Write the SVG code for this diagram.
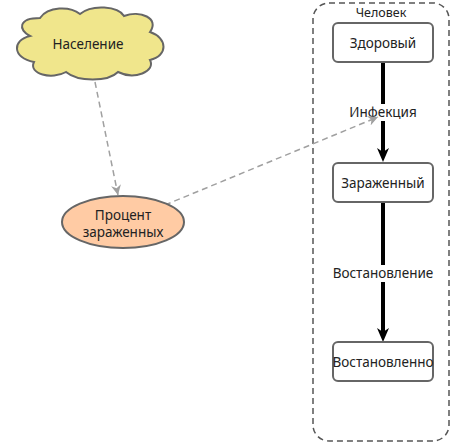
<svg xmlns="http://www.w3.org/2000/svg" width="454" height="444" viewBox="0 0 454 444">
<style>
text{font-family:"Comic Neue","Noto Sans","DejaVu Sans",sans-serif;font-size:13.5px;fill:#222;text-anchor:middle;dominant-baseline:central}
.box{fill:#fff;stroke:#666;stroke-width:2}
.flow{stroke:#000;stroke-width:4;fill:none}
.link{stroke:#a0a0a0;stroke-width:1.5;stroke-dasharray:6 4;fill:none}
.lbl{fill:#fff}
</style>
<defs>
<marker id="ab" viewBox="0 0 14 12" refX="4" refY="6" markerWidth="14" markerHeight="12" markerUnits="userSpaceOnUse" orient="auto">
<path d="M0 0 L14 6 L0 12 L4 6 Z" fill="#000"/>
</marker>
<marker id="ag" viewBox="0 0 10 10" refX="10" refY="5" markerWidth="10" markerHeight="10" markerUnits="userSpaceOnUse" orient="auto">
<path d="M0 0 L10 5 L0 10 L3 5 Z" fill="#a0a0a0"/>
</marker>
</defs>
<g id="group-chelovek">
<rect x="313" y="3" width="136" height="438" rx="16" fill="none" stroke="#555" stroke-width="1.5" stroke-dasharray="6 4"/>
<text x="381" y="13" style="font-size:12.5px">Человек</text>
</g>
<g id="connectors">
<line class="flow" x1="383" y1="62" x2="383" y2="152" marker-end="url(#ab)"/>
<line class="flow" x1="383" y1="202" x2="383" y2="332" marker-end="url(#ab)"/>
<rect class="lbl" x="346" y="104" width="74" height="17"/>
<text x="383" y="112">Инфекция</text>
<rect class="lbl" x="331" y="265" width="104" height="17"/>
<text x="383" y="273">Востановление</text>
<line class="link" x1="95" y1="82" x2="118" y2="195" marker-end="url(#ag)"/>
<line class="link" x1="165" y1="205" x2="378" y2="117" marker-end="url(#ag)"/>
</g>
<g id="node-naselenie">
<path d="M30 36 C18 30 18 18 40 18 C48 6 70 6 80 14 C92 4 118 6 124 16 C140 10 160 18 150 32 C168 38 168 56 150 60 C156 72 134 80 118 72 C108 82 78 82 66 72 C52 80 28 74 34 62 C12 58 12 40 30 36 Z" fill="#f0e68c" stroke="#666" stroke-width="2"/>
<text x="88" y="44">Население</text>
</g>
<g id="node-procent">
<ellipse cx="123" cy="222" rx="61" ry="26" fill="#ffcba4" stroke="#666" stroke-width="2"/>
<text x="123" y="215">Процент</text>
<text x="123" y="232">зараженных</text>
</g>
<g id="node-zdorovyi">
<rect class="box" x="333" y="23" width="100" height="39" rx="5"/>
<text x="383" y="43">Здоровый</text>
</g>
<g id="node-zarazhennyi">
<rect class="box" x="333" y="163" width="100" height="39" rx="5"/>
<text x="383" y="183">Зараженный</text>
</g>
<g id="node-vostanovlenno">
<rect class="box" x="333" y="342" width="100" height="39" rx="5"/>
<text x="383" y="362">Востановленно</text>
</g>
</svg>
